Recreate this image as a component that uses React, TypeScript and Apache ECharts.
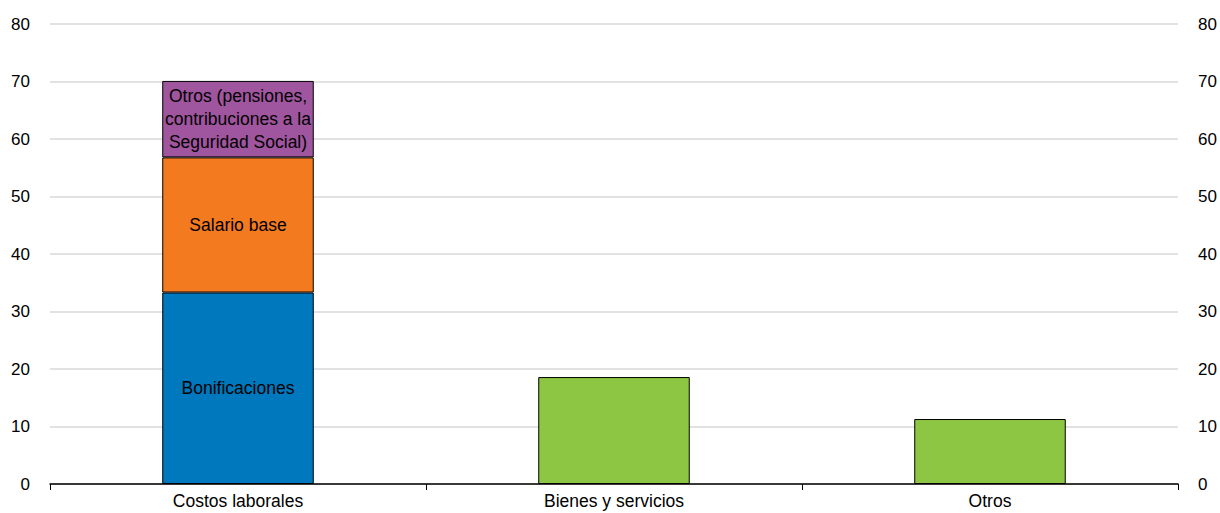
import React, { useEffect, useRef } from "react";
import * as echarts from "echarts";

const categories = ["Costos laborales", "Bienes y servicios", "Otros"];
const bonificaciones = [33.3, null, null];
const salarioBase = [23.5, null, null];
const otrosLaborales = [13.3, null, null];
const otrosGastos = [null, 18.6, 11.3];
const seriesNames = [
  "Bonificaciones",
  "Salario base",
  "Otros (pensiones,\ncontribuciones a la\nSeguridad Social)",
  "Otros gastos",
];

const FONT = "'Liberation Sans Narrow', 'Arial Narrow', 'Liberation Sans', Arial, sans-serif";

export default function App() {
  const ref = useRef<HTMLDivElement>(null);
  useEffect(() => {
    if (!ref.current) return;
    const chart = echarts.init(ref.current, null, { renderer: "svg" });
    const mkLabel = (show: boolean) => ({
      show,
      position: "inside" as const,
      formatter: "{a}",
      color: "#000",
      fontSize: 17.5,
      fontFamily: FONT,
      lineHeight: 23,
    });
    const common = {
      type: "bar" as const,
      stack: "total",
      barWidth: "40.3%",
      itemStyle: { borderColor: "#000", borderWidth: 1 },
    };
    const yAxisBase = {
      type: "value" as const,
      min: 0,
      max: 80,
      interval: 10,
      axisLine: { show: false },
      axisTick: { show: false },
      axisLabel: { color: "#000", fontSize: 17, fontFamily: FONT, margin: 20 },
    };
    chart.setOption({
      animation: false,
      textStyle: { fontFamily: FONT },
      grid: { left: 50, right: 42, top: 24, bottom: 29, containLabel: false },
      xAxis: {
        type: "category",
        data: categories,
        axisLine: { lineStyle: { color: "#000", width: 1.5 } },
        axisTick: { show: true, length: 6, lineStyle: { color: "#000" } },
        axisLabel: { color: "#000", fontSize: 17.5, fontFamily: FONT, margin: 8 },
      },
      yAxis: [
        {
          ...yAxisBase,
          position: "left",
          splitLine: { show: true, lineStyle: { color: "#d9d9d9", width: 1.5 } },
        },
        {
          ...yAxisBase,
          position: "right",
          splitLine: { show: false },
        },
      ],
      series: [
        { ...common, name: seriesNames[0], data: bonificaciones, itemStyle: { ...common.itemStyle, color: "#0078BE" }, label: mkLabel(true) },
        { ...common, name: seriesNames[1], data: salarioBase, itemStyle: { ...common.itemStyle, color: "#F47A20" }, label: mkLabel(true) },
        { ...common, name: seriesNames[2], data: otrosLaborales, itemStyle: { ...common.itemStyle, color: "#A0559F" }, label: mkLabel(true) },
        { ...common, name: seriesNames[3], data: otrosGastos, itemStyle: { ...common.itemStyle, color: "#8CC643" }, label: mkLabel(false) },
      ],
    });
    return () => chart.dispose();
  }, []);
  return (
    <div
      ref={ref}
      style={{ position: "absolute", left: 0, top: 0, width: 1220, height: 513 }}
    />
  );
}
